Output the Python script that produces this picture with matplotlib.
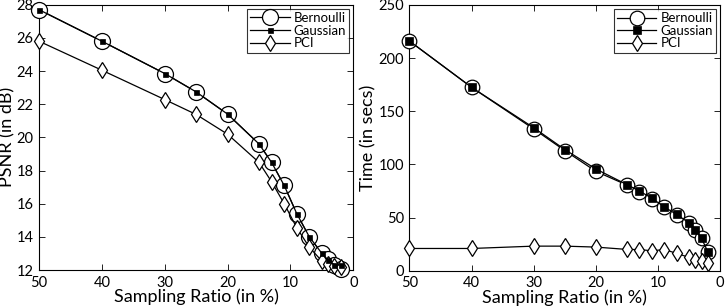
import numpy as np
import matplotlib
matplotlib.use("Agg")
import matplotlib.pyplot as plt

plt.rcParams['font.family'] = ['Lato', 'DejaVu Sans']

# sampling ratios (in %)
ratio = [50, 40, 30, 25, 20, 15, 13, 11, 9, 7, 5, 4, 3, 2]

# PSNR (dB)
psnr_bern = [27.7, 25.8, 23.85, 22.74, 21.4, 19.6, 18.49, 17.1, 15.4, 14.0, 13.0, 12.64, 12.3, 12.05]
psnr_gauss = [27.7, 25.8, 23.85, 22.74, 21.4, 19.6, 18.49, 17.1, 15.4, 14.0, 13.0, 12.6, 12.3, 12.3]
psnr_pci = [25.8, 24.05, 22.28, 21.38, 20.19, 18.49, 17.32, 16.0, 14.55, 13.37, 12.54, 12.35, 12.25, 12.2]

# time (secs)
time_bern = [216, 172.5, 133.3, 113, 93.5, 80.6, 74.3, 67.7, 59.6, 52.4, 44.6, 38.3, 30.5, 17.9]
time_gauss = [216, 172.5, 134.5, 114, 95.7, 81, 75, 68.3, 60, 53, 45, 38.5, 30.5, 18]
time_pci = [21, 21, 23.2, 23.2, 22.3, 20.1, 20, 18.8, 20, 16.4, 12.6, 10, 9.5, 7.5]

fig = plt.figure(figsize=(7.26, 3.06), dpi=100)
ax1 = fig.add_axes([0.0537, 0.1176, 0.433, 0.867])
ax2 = fig.add_axes([0.564, 0.115, 0.428, 0.869])

def draw(ax, yb, yg, yp, circ, sq):
    ax.plot(ratio, yb, '-o', color='k', lw=0.9, ms=circ, mfc='white', mec='k', mew=0.9,
            label='Bernoulli', clip_on=False, zorder=3)
    ax.plot(ratio, yg, '-s', color='k', lw=0.9, ms=sq, mfc='k', mec='k', mew=0.5,
            label='Gaussian', clip_on=False, zorder=4)
    ax.plot(ratio, yp, '-d', color='k', lw=0.9, ms=8, mfc='white', mec='k', mew=0.9,
            label='PCI', clip_on=False, zorder=3)
    ax.set_xlim(50, 0)
    ax.set_xticks([50, 40, 30, 20, 10, 0])
    ax.tick_params(direction='in', top=True, right=True, labelsize=10.5, length=4, width=0.6, pad=4)
    for s in ax.spines.values():
        s.set_linewidth(0.8)
    ax.set_xlabel('Sampling Ratio (in %)', fontsize=13, labelpad=-1)
    leg = ax.legend(loc='upper right', fontsize=9.5, frameon=True, fancybox=False,
                    edgecolor='k', handlelength=3.0, borderaxespad=0.3,
                    borderpad=0.25, labelspacing=0.05, handletextpad=0.3)
    leg.get_frame().set_linewidth(0.8)

draw(ax1, psnr_bern, psnr_gauss, psnr_pci, 11.5, 3.6)
ax1.set_ylim(12, 28)
ax1.set_yticks(np.arange(12, 29, 2))
ax1.set_ylabel('PSNR (in dB)', fontsize=13, labelpad=1)

draw(ax2, time_bern, time_gauss, time_pci, 10.5, 5.5)
ax2.set_ylim(0, 250)
ax2.set_yticks([0, 50, 100, 150, 200, 250])
ax2.set_ylabel('Time (in secs)', fontsize=13, labelpad=1)

fig.savefig('out.png', dpi=100)
